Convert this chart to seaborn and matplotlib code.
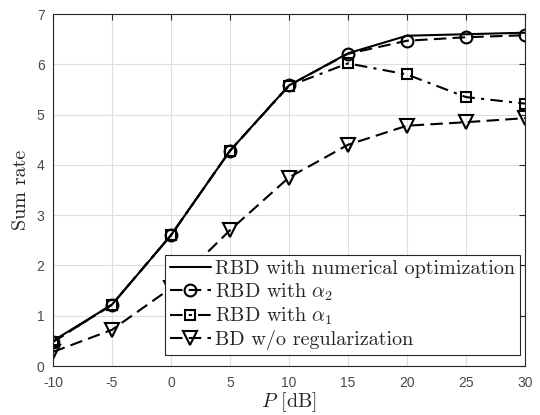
import matplotlib
matplotlib.use("Agg")
import matplotlib.pyplot as plt
import seaborn as sns
import pandas as pd

P_dB = [-10, -5, 0, 5, 10, 15, 20, 25, 30]
rbd_numerical = [0.50, 1.22, 2.60, 4.28, 5.58, 6.22, 6.57, 6.60, 6.63]
rbd_alpha2 = [0.48, 1.22, 2.60, 4.28, 5.58, 6.21, 6.47, 6.54, 6.58]
rbd_alpha1 = [0.48, 1.22, 2.60, 4.28, 5.57, 6.02, 5.80, 5.35, 5.22]
bd_noreg = [0.28, 0.72, 1.55, 2.70, 3.75, 4.40, 4.78, 4.85, 4.93]

labels = ["RBD with numerical optimization", r"RBD with $\alpha_2$",
          r"RBD with $\alpha_1$", "BD w/o regularization"]
xticks = [-10, -5, 0, 5, 10, 15, 20, 25, 30]
yticks = [0, 1, 2, 3, 4, 5, 6, 7]

sns.set_style("white")
plt.rcParams["mathtext.fontset"] = "cm"

fig = plt.figure(figsize=(5.4, 4.15), dpi=100)
ax = fig.add_axes([0.098, 0.118, 0.874, 0.848])

series = [rbd_numerical, rbd_alpha2, rbd_alpha1, bd_noreg]
styles = [dict(linestyle="-", marker=None, markersize=0),
          dict(linestyle=(0, (6, 3)), marker="o", markersize=8.5),
          dict(linestyle=(0, (6, 3, 1.5, 3)), marker="s", markersize=7),
          dict(linestyle=(0, (6, 3)), marker="v", markersize=10)]

for vals, lab, st in zip(series, labels, styles):
    df = pd.DataFrame({"P": P_dB, "rate": vals})
    sns.lineplot(data=df, x="P", y="rate", ax=ax, color="black", linewidth=1.5,
                 linestyle=st["linestyle"], marker=st["marker"],
                 markersize=st["markersize"], markerfacecolor="none",
                 markeredgecolor="black", markeredgewidth=1.5, label=lab)

ax.set_xlim(-10, 30)
ax.set_ylim(0, 7)
ax.set_xticks(xticks)
ax.set_yticks(yticks)
ax.set_xticklabels([str(t) for t in xticks], family="Liberation Sans")
ax.set_yticklabels([str(t) for t in yticks], family="Liberation Sans")
ax.grid(True, color="#dedede", linewidth=0.8)
ax.tick_params(direction="in", length=4, top=True, right=True, labelsize=10,
               colors="#262626", labelcolor="#4a4a4a", width=0.8)
ax.tick_params(axis="x", pad=7)
ax.tick_params(axis="y", pad=6)
for s in ax.spines.values():
    s.set_color("#262626")
    s.set_linewidth(0.8)

ax.set_xlabel(r"$P$ [dB]", fontsize=14.5, family="cmr10", labelpad=0)
ax.set_ylabel("Sum rate", fontsize=14.5, family="cmr10", labelpad=5)

leg = ax.legend(loc="lower right", bbox_to_anchor=(0.989, 0.031), borderaxespad=0,
                fancybox=False, framealpha=1, edgecolor="#262626",
                prop={"family": "cmr10", "size": 14.5}, handlelength=2.0,
                borderpad=0.25, labelspacing=0.15, handletextpad=0.2)
leg.get_frame().set_linewidth(0.8)

fig.savefig("out.png", dpi=100)
